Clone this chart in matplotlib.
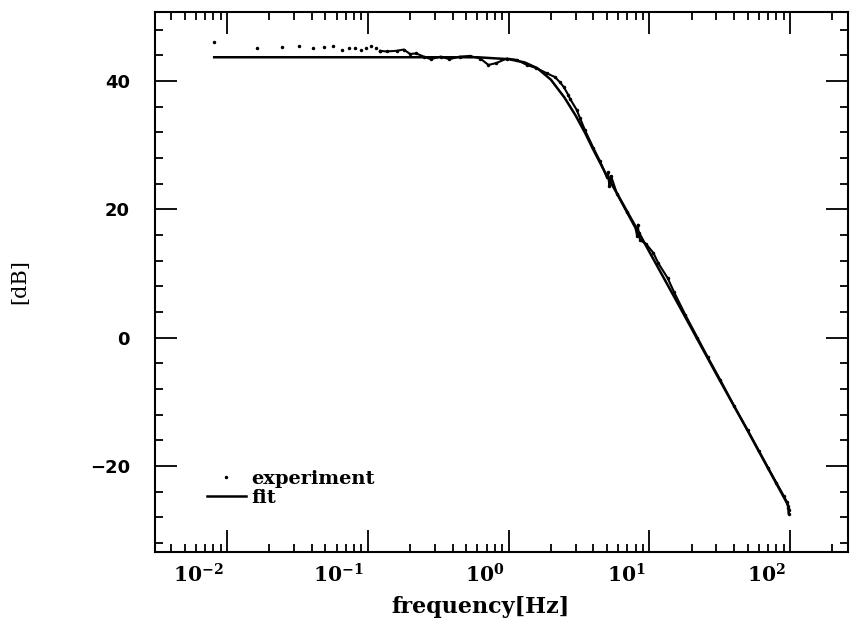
import numpy as np
import matplotlib.pyplot as plt
from matplotlib.ticker import LogLocator, MultipleLocator, NullFormatter
from matplotlib.transforms import ScaledTranslation

plt.rcParams['mathtext.fontset'] = 'dejavuserif'

# low frequency experiment points (clearly separated dots)
sparse_f = [0.0081, 0.0163, 0.0244, 0.0326, 0.0407, 0.0488, 0.057, 0.0651,
            0.0733, 0.0814, 0.0895, 0.0977, 0.1058, 0.114, 0.122]
sparse_db = [46.1, 45.1, 45.3, 45.4, 45.1, 45.3, 45.5, 44.9,
             45.2, 45.1, 44.8, 45.1, 45.5, 45.1, 44.7]

# dense experiment band
band_f = [0.122, 0.136, 0.16, 0.18, 0.2, 0.22, 0.25, 0.28, 0.33, 0.38, 0.45,
          0.53, 0.63, 0.72, 0.82, 0.97, 1.14, 1.35, 1.58, 1.87, 2.14, 2.32,
          2.48, 2.66, 2.74, 3.05, 3.22, 3.5, 4.0, 4.47, 4.99, 5.1, 5.2, 5.26,
          5.35, 5.9, 6.9, 8.0, 8.2, 8.3, 8.4, 8.6, 9.5, 10.7, 11.6, 13.5, 15.0,
          18.0, 22.0, 26.0, 32.0, 40.0, 50.0, 60.0, 70.0, 80.0, 90.0, 95.0,
          97.0, 98.0, 98.5]
band_db = [44.7, 44.6, 44.7, 44.9, 44.2, 44.3, 43.8, 43.4, 43.8, 43.4, 43.8,
           43.9, 43.5, 42.5, 42.8, 43.5, 43.3, 42.5, 42.0, 41.2, 40.6, 39.8,
           39.0, 37.8, 37.2, 35.5, 34.2, 32.3, 29.6, 27.5, 25.0, 25.8, 23.6, 24.6,
           25.2, 22.4, 19.6, 17.0, 15.8, 17.6, 16.3, 15.2, 14.6, 13.2, 11.6, 9.3, 7.1,
           3.6, 0.0, -3.0, -6.6, -10.6, -14.4, -17.6, -20.3, -22.6, -24.6, -25.6,
           -26.5, -27.5, -26.8]

# fitted curve
fit_f = [0.0081, 0.1, 0.3, 0.6, 1.0, 1.3, 1.6, 2.0, 2.5, 3.0, 3.5, 4.0, 5.0,
         6.0, 8.0, 10.0, 15.0, 20.0, 30.0, 50.0, 70.0, 98.0]
fit_db = [43.7, 43.7, 43.7, 43.7, 43.4, 42.9, 42.0, 40.2, 37.4, 34.6, 31.9, 29.3,
          25.2, 22.2, 17.3, 13.4, 6.4, 1.4, -5.7, -14.5, -20.4, -26.3]

xtick_vals = [1e-2, 1e-1, 1e0, 1e1, 1e2]
xtick_text = [r'$\mathbf{10^{-2}}$', r'$\mathbf{10^{-1}}$', r'$\mathbf{10^{0}}$',
              r'$\mathbf{10^{1}}$', r'$\mathbf{10^{2}}$']
ytick_vals = [-20, 0, 20, 40]

fig = plt.figure(figsize=(8.52, 6.21), dpi=100)
ax = fig.add_axes([155 / 852, 1 - 552 / 621, 693 / 852, 540 / 621])

ax.plot(sparse_f, sparse_db, ls='none', marker='.', ms=3, color='black',
        label='experiment')
ax.plot(band_f, band_db, color='black', lw=1.5, marker='.', ms=3)
ax.plot(fit_f, fit_db, color='black', lw=1.8, label='fit')

ax.set_xscale('log')
ax.set_xlim(10 ** -2.512, 10 ** 2.412)
ax.set_ylim(-33.4, 50.75)

ax.set_xticks(xtick_vals)
ax.set_xticklabels(xtick_text, ha='right', fontsize=14.5)
ax.xaxis.set_minor_locator(LogLocator(base=10, subs=np.arange(2, 10)))
ax.xaxis.set_minor_formatter(NullFormatter())
ax.set_yticks(ytick_vals)
ax.set_yticklabels([str(v).replace('-', '\u2212') for v in ytick_vals],
                   fontfamily='DejaVu Sans', fontweight='bold', fontsize=13)

ax.yaxis.set_minor_locator(MultipleLocator(4))

ax.tick_params(which='both', direction='in', top=True, right=True, width=1.3)
ax.tick_params(which='major', length=16)
ax.tick_params(which='minor', length=5.5)
ax.tick_params(axis='x', which='major', pad=8)
ax.tick_params(axis='y', which='major', pad=18)
for s in ax.spines.values():
    s.set_linewidth(1.5)

shift = ScaledTranslation(-4 / 100, 0, fig.dpi_scale_trans)
for lab in ax.get_xticklabels():
    lab.set_transform(lab.get_transform() + shift)

ax.set_xlabel('frequency[Hz]', fontfamily='DejaVu Serif', fontweight='bold',
              fontsize=16, labelpad=0)
ax.xaxis.set_label_coords(0.47, -0.082)
ax.set_ylabel('[dB]', fontfamily='DejaVu Serif', fontsize=15, labelpad=44)

leg = ax.legend(loc='lower left', bbox_to_anchor=(0.061, 0.066), frameon=False,
                handlelength=2.0, handletextpad=0.3, labelspacing=0.05,
                borderpad=0, numpoints=1, markerscale=1.0,
                prop={'family': 'DejaVu Serif', 'weight': 'bold', 'size': 14})

fig.savefig('out.png', dpi=100)
